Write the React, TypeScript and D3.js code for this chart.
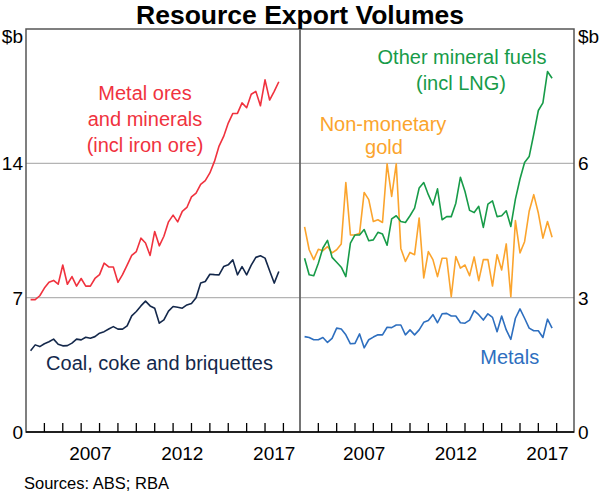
import React, { useEffect, useRef } from 'react';
import * as d3 from 'd3';

// Quarterly, March 2004 to September 2017 ($b, chain volumes)
const firstQuarter = 2004.25;
const quarterCount = 55;

const metalOres = [
  6.9, 6.9, 7.1, 7.5, 7.8, 7.9, 7.7, 8.7, 7.7, 8.1,
  7.6, 8.0, 7.6, 7.6, 8.0, 8.2, 8.8, 8.6, 8.6, 7.8,
  8.2, 8.7, 9.2, 9.4, 10.1, 9.85, 9.2, 10.45, 9.7, 10.2,
  10.95, 11.3, 10.95, 11.5, 11.7, 12.25, 12.45, 12.9, 13.1, 13.5,
  14.1, 14.9, 15.4, 16.1, 16.6, 16.6, 17.15, 16.9, 17.6, 17.75,
  17.0, 18.35, 17.3, 17.75, 18.25,
];

const coal = [
  4.24, 4.54, 4.45, 4.6, 4.7, 4.84, 4.57, 4.49, 4.5, 4.63,
  4.84, 4.8, 4.94, 4.89, 4.97, 5.15, 5.23, 5.37, 5.49, 5.36,
  5.36, 5.53, 6.05, 6.28, 6.57, 6.82, 6.57, 6.45, 5.67, 5.84,
  6.3, 6.54, 6.5, 6.45, 6.62, 6.7, 7.0, 7.76, 7.84, 8.22,
  8.2, 8.19, 8.62, 8.71, 8.97, 8.19, 8.62, 8.19, 8.7, 9.1,
  9.18, 9.06, 8.4, 7.76, 8.36,
];

const otherFuels = [
  3.88, 3.51, 3.49, 3.77, 4.11, 4.28, 3.9, 3.79, 3.68, 3.47,
  4.22, 4.4, 4.4, 4.52, 4.27, 4.29, 4.46, 4.42, 4.17, 4.76,
  4.83, 4.7, 4.68, 4.83, 5.0, 5.45, 5.57, 5.3, 5.07, 5.43,
  4.74, 4.81, 4.81, 5.11, 5.69, 5.37, 4.95, 4.9, 5.04, 4.57,
  5.09, 5.16, 4.81, 4.83, 4.94, 4.59, 5.2, 5.65, 6.02, 6.15,
  6.65, 7.18, 7.35, 8.05, 7.9,
];

const gold = [
  4.58, 4.07, 3.85, 4.08, 4.05, 4.14, 4.0, 4.07, 4.2, 5.57,
  4.4, 4.4, 4.44, 5.35, 5.19, 4.7, 4.74, 4.68, 5.99, 5.26,
  5.99, 4.1, 3.81, 4.01, 3.96, 4.78, 3.44, 4.03, 3.85, 3.47,
  3.88, 3.88, 3.02, 3.92, 3.66, 3.73, 3.49, 3.91, 3.38, 3.85,
  3.85, 3.26, 3.96, 3.62, 4.2, 3.02, 4.72, 4.0, 4.25, 4.93,
  5.3, 4.89, 4.33, 4.7, 4.35,
];

const metals = [
  2.13, 2.11, 2.06, 2.06, 2.11, 2.0, 2.09, 2.32, 2.3, 2.17,
  1.97, 1.98, 2.19, 1.88, 2.06, 2.12, 2.17, 2.17, 2.34, 2.33,
  2.39, 2.39, 2.17, 2.28, 2.17, 2.28, 2.45, 2.49, 2.62, 2.44,
  2.64, 2.65, 2.59, 2.59, 2.44, 2.43, 2.5, 2.71, 2.62, 2.5,
  2.64, 2.56, 2.24, 2.59, 2.28, 2.07, 2.54, 2.75, 2.54, 2.32,
  2.26, 2.26, 2.11, 2.52, 2.32,
];

const yearTicks = [2005, 2006, 2007, 2008, 2009, 2010, 2011, 2012, 2013, 2014, 2015, 2016, 2017, 2018];
const yearLabels = [2007, 2012, 2017];
const leftTicks = [0, 7, 14];
const rightTicks = [0, 3, 6];

const FONT = "'Liberation Sans', Arial, sans-serif";

const App: React.FC = () => {
  const ref = useRef<SVGSVGElement | null>(null);

  useEffect(() => {
    if (!ref.current) return;
    const svg = d3.select(ref.current);
    svg.selectAll('*').remove();

    const width = 600;
    const height = 494;
    const top = 29;
    const bottom = 432;
    const left = 26;
    const mid = 300;
    const right = 574;

    const dates = d3.range(quarterCount).map((i) => firstQuarter + i * 0.25);

    const xL = d3.scaleLinear().domain([2004, 2019]).range([left, 301.8]);
    const xR = d3.scaleLinear().domain([2004, 2019]).range([mid, 575]);
    const yL = d3.scaleLinear().domain([0, 21]).range([bottom, top]);
    const yR = d3.scaleLinear().domain([0, 9]).range([bottom, top]);

    svg.attr('width', width).attr('height', height).style('font-family', FONT);

    // grid lines
    leftTicks.filter((t) => t > 0).forEach((t) => {
      svg.append('line')
        .attr('x1', left).attr('x2', mid)
        .attr('y1', yL(t)).attr('y2', yL(t))
        .attr('stroke', '#b4b4b4').attr('stroke-width', 1.2);
    });
    rightTicks.filter((t) => t > 0).forEach((t) => {
      svg.append('line')
        .attr('x1', mid).attr('x2', right)
        .attr('y1', yR(t)).attr('y2', yR(t))
        .attr('stroke', '#b4b4b4').attr('stroke-width', 1.2);
    });

    // series
    const lineL = d3.line<number>().x((_, i) => xL(dates[i])).y((d) => yL(d));
    const lineR = d3.line<number>().x((_, i) => xR(dates[i])).y((d) => yR(d));

    const drawLine = (data: number[], gen: d3.Line<number>, color: string) => {
      svg.append('path')
        .datum(data)
        .attr('fill', 'none')
        .attr('stroke', color)
        .attr('stroke-width', 1.6)
        .attr('stroke-linejoin', 'round')
        .attr('d', gen);
    };

    drawLine(metalOres, lineL, '#f0323e');
    drawLine(coal, lineL, '#14284b');
    drawLine(metals, lineR, '#2e6fbf');
    drawLine(gold, lineR, '#fba42d');
    drawLine(otherFuels, lineR, '#179b48');

    // frame
    svg.append('rect')
      .attr('x', left).attr('y', top)
      .attr('width', right - left).attr('height', bottom - top)
      .attr('fill', 'none').attr('stroke', '#555').attr('stroke-width', 1.5);
    svg.append('line')
      .attr('x1', mid).attr('x2', mid).attr('y1', top).attr('y2', bottom)
      .attr('stroke', '#666').attr('stroke-width', 1.8);
    svg.append('line')
      .attr('x1', left).attr('x2', right).attr('y1', bottom).attr('y2', bottom)
      .attr('stroke', '#000').attr('stroke-width', 1.5);

    // year ticks
    yearTicks.forEach((yr) => {
      [xL(yr), xR(yr)].forEach((x) => {
        svg.append('line')
          .attr('x1', x).attr('x2', x).attr('y1', bottom).attr('y2', bottom - 9)
          .attr('stroke', '#000').attr('stroke-width', 1.3);
      });
    });

    const text = (x: number, y: number, s: string, size: number, color: string, anchor = 'middle', weight = 'normal') =>
      svg.append('text')
        .attr('x', x).attr('y', y)
        .attr('text-anchor', anchor)
        .attr('font-size', size)
        .attr('font-weight', weight)
        .attr('fill', color)
        .text(s);

    yearLabels.forEach((yr) => {
      text(xL(yr + 0.5), 460, String(yr), 19, '#000');
      text(xR(yr + 0.5), 460, String(yr), 19, '#000');
    });

    leftTicks.forEach((t) => text(23, yL(t) + 7, String(t), 19, '#000', 'end'));
    rightTicks.forEach((t) => text(578, yR(t) + 7, String(t), 19, '#000', 'start'));
    text(23, 43, '$b', 19, '#000', 'end');
    text(578, 43, '$b', 19, '#000', 'start');

    // title and source
    text(300, 23.5, 'Resource Export Volumes', 26.5, '#000', 'middle', 'bold');
    text(24, 489, 'Sources: ABS; RBA', 16.5, '#000', 'start');

    // series labels
    text(145, 100, 'Metal ores', 20, '#f0323e');
    text(145, 126, 'and minerals', 20, '#f0323e');
    text(145, 152, '(incl iron ore)', 20, '#f0323e');
    text(159.5, 370, 'Coal, coke and briquettes', 20, '#14284b');
    text(462, 64, 'Other mineral fuels', 20, '#179b48');
    text(461, 89.5, '(incl LNG)', 20, '#179b48');
    text(383, 131, 'Non-monetary', 20, '#fba42d');
    text(384, 154, 'gold', 20, '#fba42d');
    text(509.7, 364, 'Metals', 20, '#2e6fbf');
  }, []);

  return <svg ref={ref} style={{ position: 'absolute', left: 0, top: 0 }} />;
};

export default App;
